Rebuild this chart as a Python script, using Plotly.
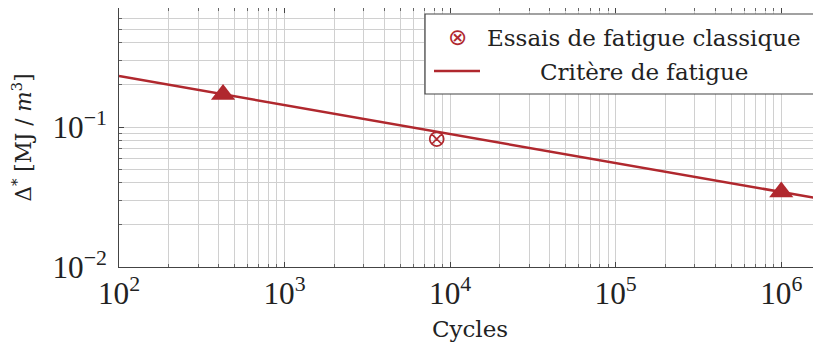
import plotly.graph_objects as go

# ---- data ----
crit_cycles = [1e2, 1.8e6]
crit_delta = [0.231, 0.0304]
tri_cycles = [425, 1e6]
tri_delta = [0.171, 0.0344]
test_cycles = [8300]
test_delta = [0.082]

RED = "#B0282E"
SERIF_T = "Liberation Serif"
SERIF = "DejaVu Serif"

fig = go.Figure()
fig.add_trace(go.Scatter(x=crit_cycles, y=crit_delta, mode="lines",
                         line=dict(color=RED, width=2.5), name="Critère de fatigue",
                         showlegend=False))
fig.add_trace(go.Scatter(x=tri_cycles, y=tri_delta, mode="markers",
                         marker=dict(symbol="triangle-up", size=21, color=RED),
                         showlegend=False))
fig.add_trace(go.Scatter(x=test_cycles, y=test_delta, mode="markers",
                         marker=dict(symbol="circle-x-open", size=14, color=RED,
                                     line=dict(width=1.7, color=RED)),
                         name="Essais de fatigue classique", showlegend=False))

grid = "#d0d0d0"
axcommon = dict(type="log", dtick=1, exponentformat="power", showgrid=True,
                gridcolor=grid, gridwidth=1, ticks="inside", ticklen=5,
                tickcolor="#444", showline=True, linecolor="#444", linewidth=1.2,
                mirror="ticks", zeroline=False,
                tickfont=dict(family=SERIF_T, size=25, color="#222"),
                minor=dict(showgrid=True, gridcolor=grid, gridwidth=1,
                           ticks="inside", ticklen=3, tickcolor="#666"))

fig.update_xaxes(**axcommon, range=[2, 6.24], ticklabelstandoff=0,
                 title=dict(text="Cycles", font=dict(family=SERIF, size=23, color="#222"),
                            standoff=12))
fig.update_yaxes(**axcommon, range=[-2, -0.15], ticklabelstandoff=6,
                 title=dict(text="Δ<sup>*</sup> [MJ / <i>m</i><sup>3</sup>]",
                            font=dict(family=SERIF, size=21.5, color="#222"), standoff=15))

# legend box drawn manually (centered text like the reference)
def px(xp):
    return (xp - 119) / 702

def py(yp):
    return (267 - yp) / 259

shapes = [
    dict(type="rect", xref="paper", yref="paper", x0=px(425), x1=px(816),
         y0=py(94), y1=py(14), line=dict(color="#444", width=1.2), fillcolor="white",
         layer="above"),
    dict(type="line", xref="paper", yref="paper", x0=px(434), x1=px(480),
         y0=py(71), y1=py(71), line=dict(color=RED, width=2.5), layer="above"),
]
annotations = [
    dict(xref="paper", yref="paper", x=px(457), y=py(37), text="⊗", showarrow=False,
         font=dict(family="DejaVu Sans", size=23, color=RED), xanchor="center", yanchor="middle"),
    dict(xref="paper", yref="paper", x=px(644), y=py(38), text="Essais de fatigue classique",
         showarrow=False, font=dict(family=SERIF, size=23, color="#222"),
         xanchor="center", yanchor="middle"),
    dict(xref="paper", yref="paper", x=px(644), y=py(72), text="Critère de fatigue",
         showarrow=False, font=dict(family=SERIF, size=23, color="#222"),
         xanchor="center", yanchor="middle"),
]

# page body has an 8px default margin: figure is 813x334 so that the plot
# area lands at the same window pixels as the reference
fig.update_layout(width=813, height=334, margin=dict(l=111, r=0, t=0, b=75),
                  plot_bgcolor="white", paper_bgcolor="white",
                  shapes=shapes, annotations=annotations, showlegend=False)

fig.write_html("out.html")
